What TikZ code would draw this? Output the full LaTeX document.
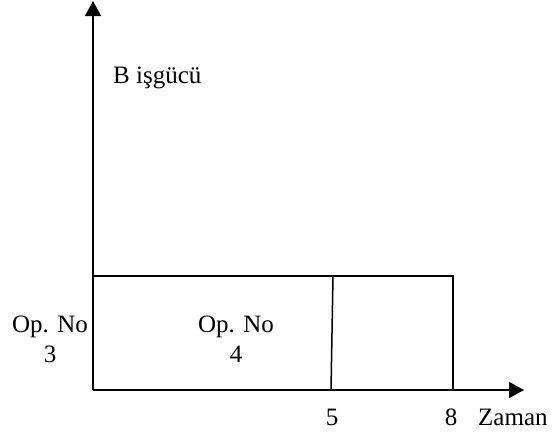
\documentclass[tikz,border=0pt]{standalone}
\usepackage{fontspec}
\setmainfont{Liberation Serif}
\usetikzlibrary{arrows.meta}
\begin{document}
\begin{tikzpicture}[x=1pt,y=-1pt,
  axis/.style={line width=1.5pt,-{Triangle[length=15pt,width=16pt]}},
  frame/.style={line width=1.5pt},
  lbl/.style={font=\fontsize{25}{30}\selectfont,inner sep=0pt,align=center}]
\useasboundingbox (0,0) rectangle (556,432);
\coordinate (O) at (93,390);
\coordinate (ytip) at (93,1);
\coordinate (xtip) at (524,390);
\coordinate (rtl) at (93,276);
\coordinate (rtr) at (453,276);
\coordinate (rbr) at (453,390);
\coordinate (mt) at (333,276);
\coordinate (mb) at (331,390);
\draw[axis] (O) -- (ytip);
\draw[axis] (O) -- (xtip);
\draw[frame] (rtl) -- (rtr) -- (rbr);
\draw[frame] (mt) -- (mb);
\node[lbl,anchor=base west] (bl) at (113,83) {B işgücü};
\node[lbl] (op3) at (50,339) {Op. No\\3};
\node[lbl] (op4) at (236,339) {Op. No\\4};
\node[lbl,anchor=base] (t5) at (332,425) {5};
\node[lbl,anchor=base] (t8) at (451,425) {8};
\node[lbl,anchor=base west] (zm) at (478,425) {Zaman};
\end{tikzpicture}
\end{document}
